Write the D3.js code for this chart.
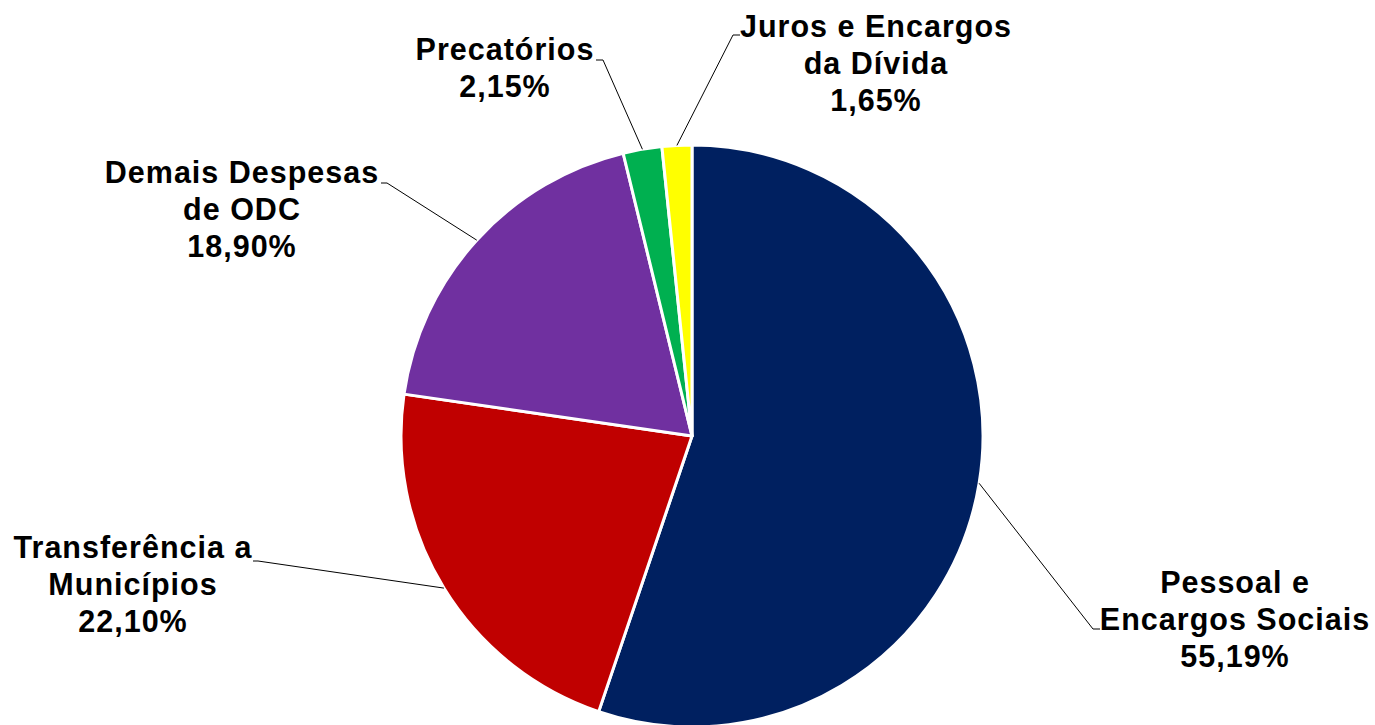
<!DOCTYPE html>
<html>
<head>
<meta charset="utf-8">
<script src="https://cdn.jsdelivr.net/npm/d3@7"></script>
<style>
  html, body { margin: 0; padding: 0; background: #fff; }
  svg { display: block; }
  text { font-family: "Liberation Sans", Arial, sans-serif; font-weight: bold; fill: #000; }
</style>
</head>
<body>
<svg id="chart" width="1375" height="725"></svg>
<script>
// ---- data ----
const categories = [
  "Pessoal e Encargos Sociais",
  "Transferência a Municípios",
  "Demais Despesas de ODC",
  "Precatórios",
  "Juros e Encargos da Dívida"
];
const values = [55.19, 22.10, 18.90, 2.15, 1.65];
const valueLabels = ["55,19%", "22,10%", "18,90%", "2,15%", "1,65%"];
const labelLines = [
  ["Pessoal e", "Encargos Sociais"],
  ["Transferência a", "Municípios"],
  ["Demais Despesas", "de ODC"],
  ["Precatórios"],
  ["Juros e Encargos", "da Dívida"]
];
const colors = ["#002060", "#C00000", "#7030A0", "#00B050", "#FFFF00"];

// ---- layout (label placement, pixels) ----
const labelLayout = [
  { cx: 1235, y0: 593, elbow: [1093, 629], end: [1100, 629] },
  { cx: 133,  y0: 558, elbow: [258, 561],  end: [253, 561] },
  { cx: 242,  y0: 183, elbow: [387, 183],  end: [381, 183] },
  { cx: 505,  y0: 60,  elbow: [603, 60],   end: [596, 60] },
  { cx: 876,  y0: 37,  elbow: [733, 35],   end: [740, 35] }
];
const lineHeight = 37;
const fontSize = 30.5;
const letterSpacing = 1;

const svg = d3.select("#chart");
const cx = 692, cy = 436, r = 291;

const data = categories.map((c, i) => ({ name: c, value: values[i], i }));
const pie = d3.pie().sort(null).value(d => d.value);
const arcs = pie(data);
const arc = d3.arc().innerRadius(0).outerRadius(r);
const edgeArc = d3.arc().innerRadius(r).outerRadius(r);
const color = d3.scaleOrdinal().domain(categories).range(colors);

const g = svg.append("g").attr("transform", `translate(${cx},${cy})`);
g.selectAll("path.slice")
  .data(arcs)
  .join("path")
  .attr("class", "slice")
  .attr("d", arc)
  .attr("fill", d => color(d.data.name))
  .attr("stroke", "#fff")
  .attr("stroke-width", 3)
  .attr("stroke-linejoin", "round");

// leader lines
svg.selectAll("polyline.leader")
  .data(arcs)
  .join("polyline")
  .attr("class", "leader")
  .attr("fill", "none")
  .attr("stroke", "#000")
  .attr("stroke-width", 1)
  .attr("points", d => {
    const p = edgeArc.centroid(d);
    const L = labelLayout[d.data.i];
    return [[p[0] + cx, p[1] + cy], L.elbow, L.end].map(q => q.join(",")).join(" ");
  });

// labels
arcs.forEach(d => {
  const i = d.data.i;
  const L = labelLayout[i];
  const lines = labelLines[i].concat([valueLabels[i]]);
  const t = svg.append("text")
    .attr("text-anchor", "middle")
    .attr("font-size", fontSize)
    .attr("letter-spacing", letterSpacing);
  lines.forEach((s, k) => {
    t.append("tspan").attr("x", L.cx).attr("y", L.y0 + k * lineHeight).text(s);
  });
});
</script>
</body>
</html>
